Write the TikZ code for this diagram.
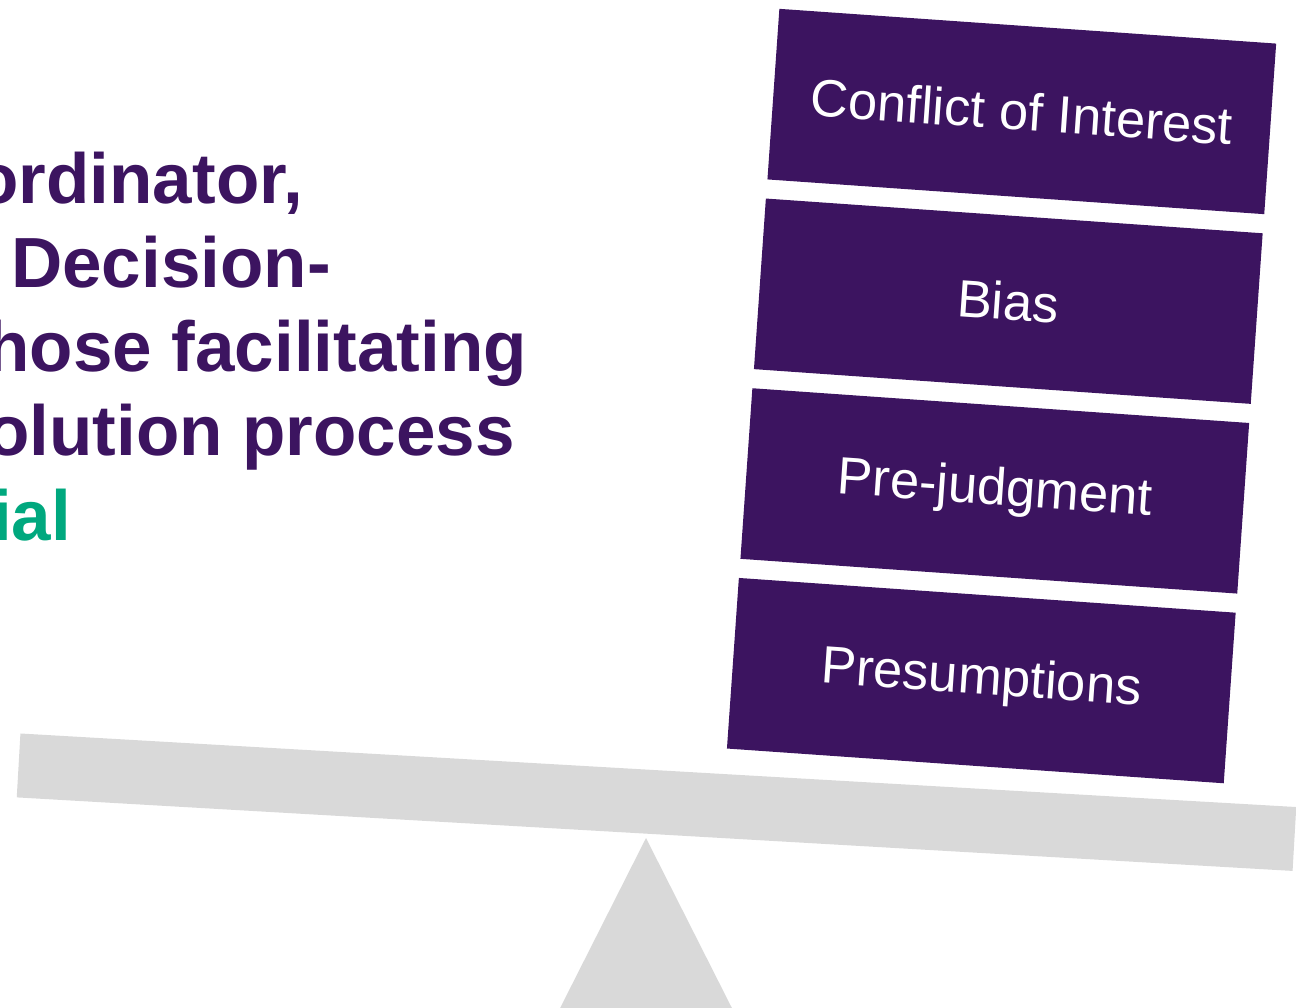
\documentclass[tikz,border=0pt]{standalone}
\usepackage{fontspec}
\setmainfont{Liberation Sans}
\definecolor{plum}{RGB}{60,20,96}
\definecolor{teal}{RGB}{0,168,126}
\definecolor{beamgrey}{RGB}{217,217,217}
\begin{document}
\begin{tikzpicture}[x=1pt,y=-1pt,
  block/.style={fill=plum,text=white,inner sep=0pt,minimum width=498pt,minimum height=171pt,
    rotate=-4,font=\fontsize{52.5}{60}\selectfont},
  headline/.style={text=plum,inner sep=0pt,font=\bfseries\fontsize{71}{85}\selectfont},
  lever/.style={fill=beamgrey,inner sep=0pt,minimum width=1278pt,minimum height=64pt,rotate=-3.3}]
\useasboundingbox (0,0) rectangle (1296,1007);
\clip (0,0) rectangle (1296,1007);

% fulcrum and beam
\fill[beamgrey] (646,838) -- (549,1030) -- (743,1030) -- cycle;
\node[lever] (beam) at (656.5,802.2) {};

% stacked weights on the right arm
\node[block] (coi)  at (1021.8,111.5) {Conflict of Interest};
\node[block] (bias) at (1008.3,301.2) {Bias};
\node[block] (prej) at (994.8,490.9) {Pre-judgment};
\node[block] (pres) at (981.3,680.6) {Presumptions};

% statement on the left
\node[headline,anchor=base east] (l1) at (303,203) {ordinator,};
\node[headline,anchor=base east] (l2) at (331,287) {Decision-};
\node[headline,anchor=base east] (l3) at (527,371) {hose facilitating};
\node[headline,anchor=base east] (l4) at (515,455) {olution process};
\node[headline,anchor=base west,text=teal] (l5) at (-8,540) {ial};
\end{tikzpicture}
\end{document}
